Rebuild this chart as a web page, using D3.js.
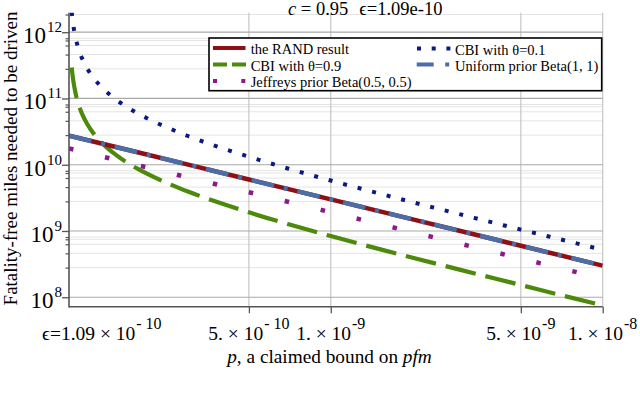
<!DOCTYPE html>
<html><head><meta charset="utf-8">
<script src="https://cdn.jsdelivr.net/npm/d3@7"></script>
<style>
html,body{margin:0;padding:0;background:#fff;}
svg{display:block;}
</style></head>
<body>
<svg id="chart" width="640" height="398"></svg>
<script>
// ---------- data ----------
const epsilon = 1.09e-10;
const titleText = ["c", " = 0.95", "\u03f5=1.09e-10"];
const xTickValues = [1.09e-10, 5e-10, 1e-9, 5e-9, 1e-8];
const xTickMantissa = ["\u03f5=1.09 \u00d7 10", "5. \u00d7 10", "1. \u00d7 10", "5. \u00d7 10", "1. \u00d7 10"];
const xTickExponent = ["- 10", "- 10", "-9", "-9", "-8"];
const yTickValues = [1e8, 1e9, 1e10, 1e11, 1e12];
const yTickExponent = ["8", "9", "10", "11", "12"];
const yMinorValues = [
  8.1e8, 7.5e8, 6.3e8, 4.6e8, 2.8e8,
  8.1e9, 7.5e9, 6.3e9, 4.6e9, 2.8e9,
  8.1e10, 7.5e10, 6.3e10, 4.6e10, 2.8e10,
  8.1e11, 7.5e11, 6.3e11, 4.6e11, 2.8e11,
  1.85e12];

// p grid for the CBI curves
const pCBI = [1.1154e-10, 1.12e-10, 1.13e-10, 1.15e-10, 1.18e-10, 1.22e-10, 1.27e-10, 1.35e-10,
  1.45e-10, 1.6e-10, 1.8e-10, 2.1e-10, 2.5e-10, 3e-10, 4e-10, 5e-10, 7e-10, 1e-9,
  1.5e-9, 2e-9, 3e-9, 5e-9, 7e-9, 1e-8];
const cbi01 = [2.02e12, 1.71e12, 1.29e12, 8.57e11, 5.71e11, 3.96e11, 2.86e11, 1.98e11,
  1.43e11, 1.01e11, 7.24e10, 5.09e10, 3.65e10, 2.69e10, 1.77e10, 1.32e10, 8.70e9, 5.77e9,
  3.70e9, 2.72e9, 1.78e9, 1.05e9, 7.46e8, 5.20e8];
const cbi09 = [2.94e11, 2.49e11, 1.87e11, 1.25e11, 8.30e10, 5.75e10, 4.15e10, 2.87e10,
  2.08e10, 1.47e10, 1.05e10, 7.40e9, 5.30e9, 3.91e9, 2.57e9, 1.91e9, 1.26e9, 8.39e8,
  5.37e8, 3.95e8, 2.59e8, 1.53e8, 1.08e8, 7.55e7];
// p grid for the near-straight curves
const pLine = [1.09e-10, 2e-10, 5e-10, 1e-9, 2e-9, 5e-9, 1e-8];
const randResult = [2.75e10, 1.50e10, 5.99e9, 3.00e9, 1.50e9, 5.99e8, 3.00e8];
const uniformPrior = [2.75e10, 1.50e10, 5.99e9, 3.00e9, 1.50e9, 5.99e8, 3.00e8];
const jeffreysPrior = [1.76e10, 9.60e9, 3.84e9, 1.92e9, 9.60e8, 3.84e8, 1.92e8];

const seriesNames = ["the RAND result", "CBI with \u03b8=0.9", "Jeffreys prior Beta(0.5, 0.5)", "CBI with \u03b8=0.1", "Uniform prior Beta(1, 1)"];
const seriesColors = ["#8e0f14", "#4d8a0c", "#8a1a8a", "#0a1a80", "#4c6ea6"];

const FONT = "Liberation Serif";

// ---------- layout ----------
const svg = d3.select("#chart");
const L = 69, R = 602.7, T = 12.7, B = 306.7;
const x = d3.scaleLog().domain([1.09e-10, 1e-8]).range([L, R]);
const y = d3.scaleLog().domain([7.2e7, 1.97e12]).range([B, T]);

svg.append("defs").append("clipPath").attr("id", "clip")
  .append("rect").attr("x", L).attr("y", T).attr("width", R - L).attr("height", B - T);

// grid
const grid = svg.append("g");
grid.selectAll(".minor").data(yMinorValues).join("line")
  .attr("x1", L).attr("x2", R).attr("y1", d => y(d)).attr("y2", d => y(d))
  .attr("stroke", "#e4e4e4").attr("stroke-width", 1);
grid.selectAll(".vg").data(xTickValues.slice(1)).join("line")
  .attr("x1", d => x(d)).attr("x2", d => x(d)).attr("y1", T).attr("y2", B)
  .attr("stroke", "#c6c6c6").attr("stroke-width", 1.2);
grid.selectAll(".major").data(yTickValues).join("line")
  .attr("x1", L).attr("x2", R).attr("y1", d => y(d)).attr("y2", d => y(d))
  .attr("stroke", "#a9a9a9").attr("stroke-width", 1.2);

// series
const plot = svg.append("g").attr("clip-path", "url(#clip)");
const line = d3.line().x(d => x(d[0])).y(d => y(d[1])).curve(d3.curveMonotoneX);
const zip = (ps, vs) => ps.map((p, i) => [p, vs[i]]);

const series = [
  {data: zip(pLine, jeffreysPrior), color: seriesColors[2], w: 4.5, dash: "4.5,32.5", off: 0},
  {data: zip(pCBI, cbi09), color: seriesColors[1], w: 4.2, dash: "31,10", off: 0},
  {data: zip(pCBI, cbi01), color: seriesColors[3], w: 4, dash: "4,11", off: 0},
  {data: zip(pLine, randResult), color: seriesColors[0], w: 4.5, dash: null, off: 0},
  {data: zip(pLine, uniformPrior), color: seriesColors[4], w: 4.5, dash: "23,10,4,10", off: 0}
];
series.forEach(s => {
  plot.append("path").attr("d", line(s.data)).attr("fill", "none")
    .attr("stroke", s.color).attr("stroke-width", s.w)
    .attr("stroke-dasharray", s.dash).attr("stroke-dashoffset", s.off);
});

// axes
const axisColor = "#555";
const yAxis = d3.axisLeft(y).tickValues(yTickValues).tickSize(7).tickFormat(() => "");
const gy = svg.append("g").attr("transform", `translate(${L},0)`).call(yAxis);
gy.select(".domain").remove();
gy.selectAll(".tick line").attr("stroke", axisColor).attr("stroke-width", 1.3);
const yMinorAxis = d3.axisLeft(y).tickValues(yMinorValues).tickSize(3.5).tickFormat(() => "");
const gym = svg.append("g").attr("transform", `translate(${L},0)`).call(yMinorAxis);
gym.select(".domain").remove();
gym.selectAll(".tick line").attr("stroke", axisColor).attr("stroke-width", 1.2);

const xAxis = d3.axisBottom(x).tickValues(xTickValues.slice(1)).tickSize(6.5).tickFormat(() => "");
const gx = svg.append("g").attr("transform", `translate(0,${B})`).call(xAxis);
gx.select(".domain").remove();
gx.selectAll(".tick line").attr("stroke", axisColor).attr("stroke-width", 1.3);

svg.append("line").attr("x1", L).attr("x2", L).attr("y1", T).attr("y2", B + 0.7)
  .attr("stroke", axisColor).attr("stroke-width", 1.6);
svg.append("line").attr("x1", L).attr("x2", R).attr("y1", B).attr("y2", B)
  .attr("stroke", axisColor).attr("stroke-width", 1.6);

const txt = (sel) => sel.append("text").attr("font-family", FONT).attr("fill", "#000");

// y tick labels
yTickValues.forEach((v, i) => {
  const t = txt(svg).attr("x", 62).attr("y", y(v) + 11).attr("text-anchor", "end");
  t.append("tspan").attr("font-size", 23).text("10");
  t.append("tspan").attr("font-size", 15).attr("dy", -11).attr("dx", 1).text(yTickExponent[i]);
});

// x tick labels
xTickValues.forEach((v, i) => {
  const first = i === 0;
  const t = txt(svg).attr("x", first ? x(v) - 27 : x(v)).attr("y", 340)
    .attr("text-anchor", first ? "start" : "middle");
  t.append("tspan").attr("font-size", 19.5).text(xTickMantissa[i]);
  t.append("tspan").attr("font-size", 16).attr("dy", -11.5).attr("dx", 1).text(xTickExponent[i]);
});

// axis titles
const xt = txt(svg).attr("x", 329.5).attr("y", 363).attr("text-anchor", "middle").attr("font-size", 19.3);
xt.append("tspan").attr("font-style", "italic").text("p");
xt.append("tspan").text(", a claimed bound on ");
xt.append("tspan").attr("font-style", "italic").text("pfm");

txt(svg).attr("transform", "translate(17,158.5) rotate(-90)")
  .attr("text-anchor", "middle").attr("font-size", 19)
  .text("Fatality-free miles needed to be driven");

// title
const tt = txt(svg).attr("x", 288).attr("y", 14.5).attr("font-size", 18.5);
tt.append("tspan").attr("font-style", "italic").text(titleText[0]);
tt.append("tspan").text(titleText[1]);
tt.append("tspan").attr("dx", 11).text(titleText[2]);

// legend
const lg = svg.append("g");
lg.append("rect").attr("x", 209).attr("y", 38).attr("width", 392.7).attr("height", 52.7)
  .attr("fill", "#fff").attr("stroke", "#000").attr("stroke-width", 1.6);
const legendItems = [
  {name: seriesNames[0], color: seriesColors[0], x0: 213, x1: 245.5, y: 48, dash: null, w: 4, tx: 250.7},
  {name: seriesNames[1], color: seriesColors[1], x0: 213, x1: 246, y: 64.5, dash: "14,5", w: 4, tx: 250.7},
  {name: seriesNames[2], color: seriesColors[2], x0: 213, x1: 247, y: 81, dash: "4,24.3", w: 4, tx: 250.7},
  {name: seriesNames[3], color: seriesColors[3], x0: 417, x1: 451, y: 48.5, dash: "4,10.7", w: 4, tx: 455},
  {name: seriesNames[4], color: seriesColors[4], x0: 416.7, x1: 449.5, y: 64.5, dash: "17,11.5,4,20", w: 4, tx: 455}
];
legendItems.forEach(d => {
  lg.append("line").attr("x1", d.x0).attr("x2", d.x1).attr("y1", d.y).attr("y2", d.y)
    .attr("stroke", d.color).attr("stroke-width", d.w).attr("stroke-dasharray", d.dash);
  txt(lg).attr("x", d.tx).attr("y", d.y + 6).attr("font-size", 14.5).text(d.name);
});
</script>
</body></html>
